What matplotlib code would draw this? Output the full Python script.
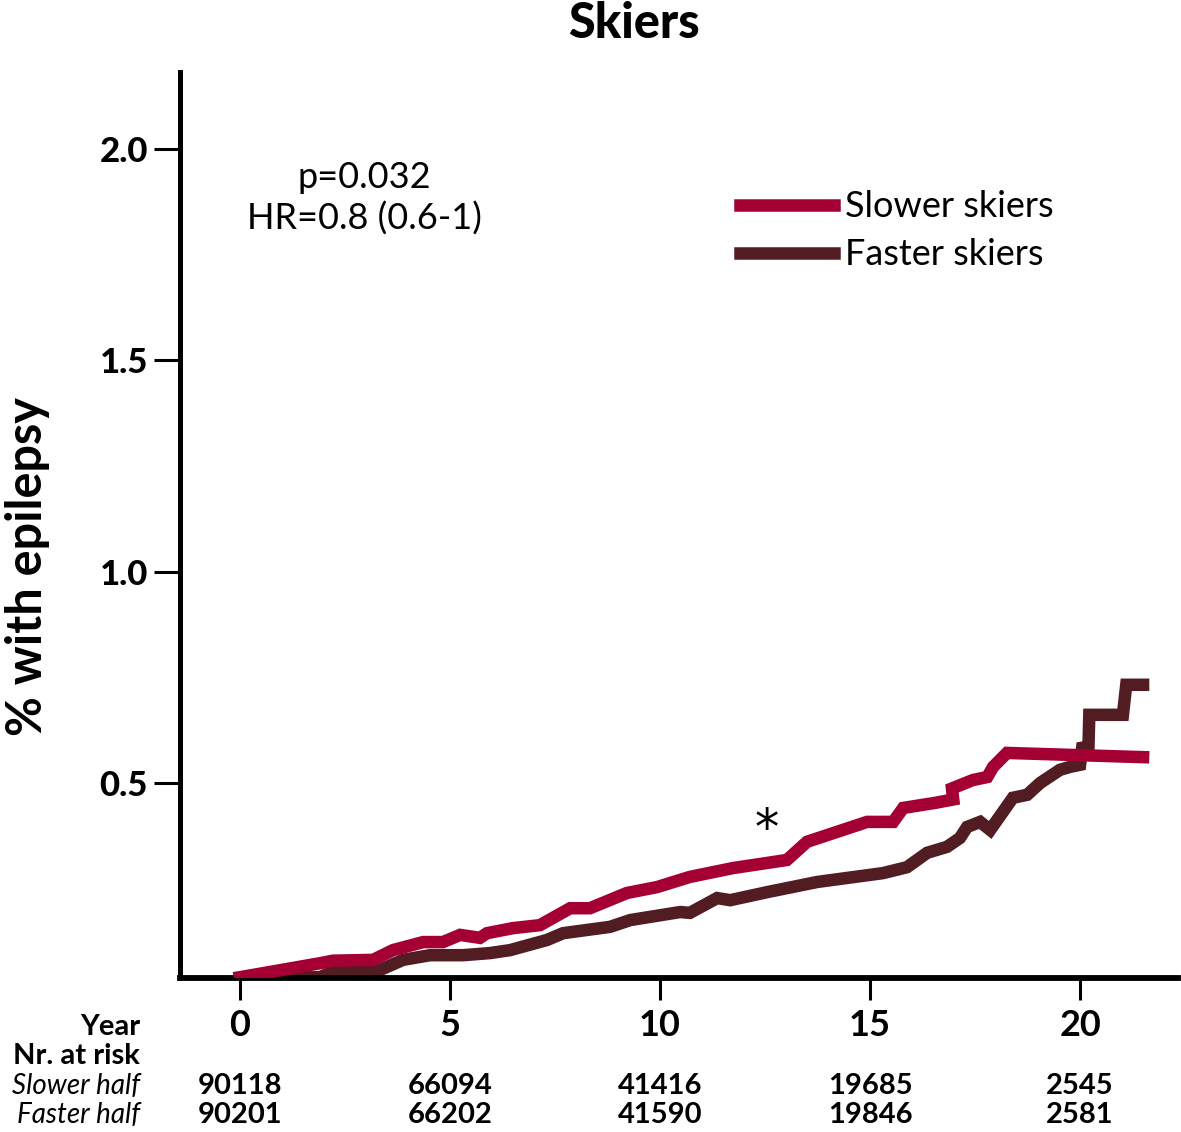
import matplotlib
matplotlib.use("Agg")
import matplotlib.pyplot as plt
from matplotlib.transforms import blended_transform_factory

plt.rcParams['font.family'] = ['Lato', 'DejaVu Sans']

# Cumulative % with epilepsy
slower_years = [0, 1.9, 2.21, 3.17, 3.64, 4.36, 4.83, 5.24, 5.71, 5.88, 6.5, 7.14, 7.86,
                8.33, 9.21, 9.93, 10.71, 11.74, 13.02, 13.5, 14.93, 15.55, 15.79, 16.55,
                16.98, 16.95, 17.45, 17.79, 17.93, 18.26, 21.5]
slower_pct = [0.042, 0.075, 0.081, 0.083, 0.106, 0.125, 0.125, 0.142, 0.135, 0.146, 0.158,
              0.165, 0.205, 0.205, 0.241, 0.255, 0.279, 0.300, 0.319, 0.362, 0.409, 0.409,
              0.442, 0.454, 0.462, 0.488, 0.508, 0.515, 0.539, 0.572, 0.562]

faster_years = [0, 1.9, 2.31, 3.33, 3.88, 4.52, 5.31, 5.95, 6.43, 7.31, 7.69, 8.81, 9.29,
                10.48, 10.71, 11.36, 11.67, 12.55, 13.74, 15.31, 15.88, 16.36, 16.83, 17.14,
                17.31, 17.62, 17.86, 18.4, 18.74, 19.05, 19.52, 19.76, 20.0, 20.05, 20.2,
                20.22, 21.02, 21.1, 21.5]
faster_pct = [0.040, 0.042, 0.059, 0.059, 0.083, 0.094, 0.094, 0.099, 0.106, 0.130, 0.146,
              0.161, 0.177, 0.196, 0.194, 0.229, 0.224, 0.243, 0.267, 0.288, 0.302, 0.336,
              0.350, 0.371, 0.397, 0.409, 0.390, 0.466, 0.473, 0.501, 0.532, 0.539, 0.544,
              0.584, 0.586, 0.662, 0.662, 0.733, 0.733]

year_ticks = [0, 5, 10, 15, 20]
at_risk_slower = ["90118", "66094", "41416", "19685", "2545"]
at_risk_faster = ["90201", "66202", "41590", "19846", "2581"]
y_ticks = [0.5, 1.0, 1.5, 2.0]

red = '#a50034'
dark = '#521c23'

fig = plt.figure(figsize=(11.81, 11.32), dpi=100)
ax = fig.add_axes([0.1524, 0.136, 0.845, 0.800])

ax.plot(faster_years, faster_pct, color=dark, lw=9, solid_joinstyle='miter',
        label='Faster skiers', zorder=2)
ax.plot(slower_years, slower_pct, color=red, lw=9, solid_joinstyle='miter',
        label='Slower skiers', zorder=3)

ax.set_xlim(-1.43, 22.33)
ax.set_ylim(0.04, 2.18)

for s in ['top', 'right']:
    ax.spines[s].set_visible(False)
ax.spines['left'].set_linewidth(3.6)
ax.spines['bottom'].set_linewidth(4.2)

ax.set_yticks(y_ticks)
ax.set_yticklabels([f"{v:.1f}" for v in y_ticks], fontsize=25, fontweight='black')
ax.tick_params(axis='y', length=19, width=2.2, pad=4)
ax.set_xticks(year_ticks)
ax.set_xticklabels([str(v) for v in year_ticks], fontsize=26, fontweight='bold')
ax.tick_params(axis='x', length=16, width=2.2, pad=6)

fig.text(28 / 1181, 1 - 567 / 1132, '% with epilepsy', fontsize=35, fontweight='bold',
         rotation=90, ha='center', va='center')

fig.text(634 / 1181, 1 - 24 / 1132, 'Skiers', fontsize=35, fontweight='black',
         ha='center', va='center')

ax.text(0.185, 0.861, 'p=0.032\nHR=0.8 (0.6-1)', transform=ax.transAxes,
        fontsize=26, ha='center', va='center', linespacing=1.3)
ax.text(12.55, 0.357, '*', fontsize=35, family='DejaVu Sans', ha='center', va='baseline')

handles, labels = ax.get_legend_handles_labels()
ax.legend(handles[::-1], labels[::-1], loc='upper left', bbox_to_anchor=(0.561, 0.870),
          frameon=False, fontsize=26, handlelength=2.6, handletextpad=0.3,
          labelspacing=0.42, borderpad=0, borderaxespad=0)

# Number at risk table
tr = blended_transform_factory(ax.transData, fig.transFigure)
row_y = [1 - 1056 / 1132, 1 - 1086 / 1132, 1 - 1115 / 1132]
fig.text(140 / 1181, 1 - 1027 / 1132, 'Year', fontsize=21, fontweight='bold',
         ha='right', va='center')
fig.text(140 / 1181, row_y[0], 'Nr. at risk', fontsize=21, fontweight='bold',
         ha='right', va='center')
fig.text(140 / 1181, row_y[1], 'Slower half', fontsize=20, style='italic',
         ha='right', va='center')
fig.text(140 / 1181, row_y[2], 'Faster half', fontsize=20, style='italic',
         ha='right', va='center')
for yr, a, b in zip(year_ticks, at_risk_slower, at_risk_faster):
    ax.text(yr, row_y[1], a, transform=tr, fontsize=21, fontweight='bold',
            ha='center', va='center')
    ax.text(yr, row_y[2], b, transform=tr, fontsize=21, fontweight='bold',
            ha='center', va='center')

fig.savefig('out.png', dpi=100)
